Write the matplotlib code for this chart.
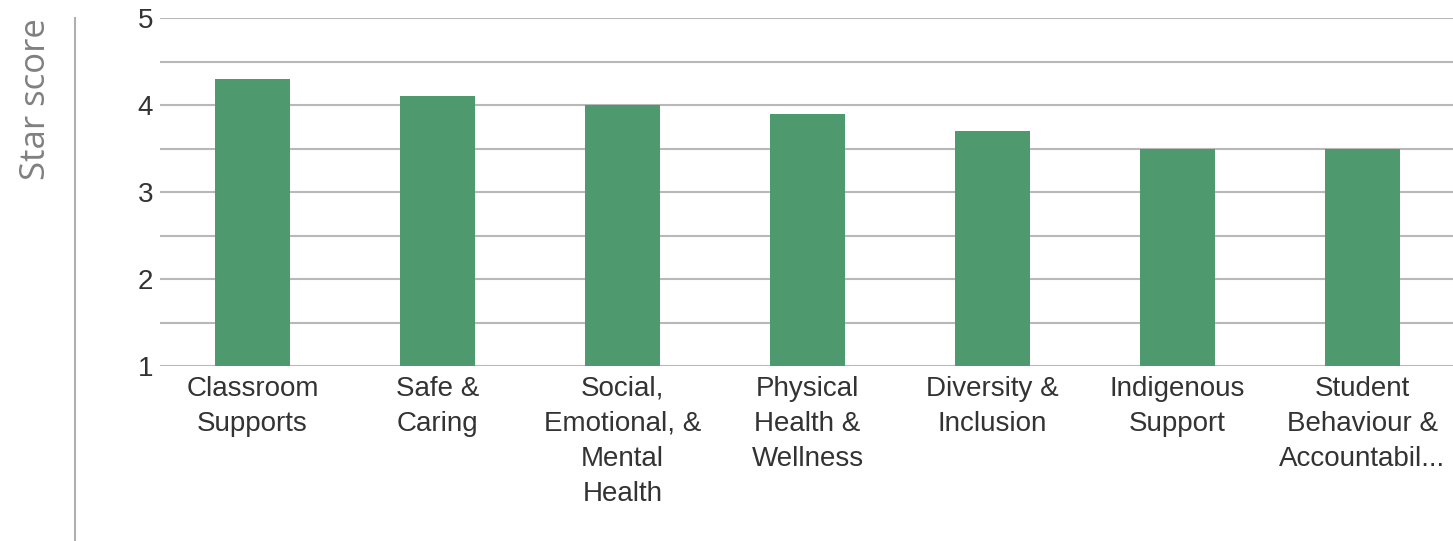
import numpy as np
import matplotlib.pyplot as plt
from matplotlib.lines import Line2D

# Data
categories = ["Classroom\nSupports", "Safe &\nCaring", "Social,\nEmotional, &\nMental\nHealth",
              "Physical\nHealth &\nWellness", "Diversity &\nInclusion", "Indigenous\nSupport",
              "Student\nBehaviour &\nAccountabil..."]
scores = [4.3, 4.1, 4.0, 3.9, 3.7, 3.5, 3.5]
yticks = [1, 2, 3, 4, 5]

W, H = 1453, 541
fig = plt.figure(figsize=(W / 100, H / 100), dpi=100)
ax = fig.add_axes([160 / W, 1 - 366 / H, (1455 - 160) / W, (366 - 18) / H])

x = np.arange(len(categories))
ax.bar(x, np.array(scores) - 1, bottom=1, width=0.405, color="#4e9a6e", zorder=3)

ax.set_xlim(-0.5, len(categories) - 0.5)
ax.set_ylim(1, 5)
ax.set_yticks(yticks)
ax.set_yticks([1.5, 2.5, 3.5, 4.5], minor=True)
ax.grid(axis="y", which="both", color="#b8b8b8", linewidth=1.5, zorder=0)
for s in ax.spines.values():
    s.set_visible(False)
ax.tick_params(axis="y", which="both", length=0, pad=5, labelsize=20, labelcolor="#333333")
ax.tick_params(axis="x", length=0, pad=7)
ax.set_yticklabels([str(t) for t in yticks], family="Liberation Sans")
ax.set_xticks(x)
ax.set_xticklabels(categories, family="Liberation Sans", fontsize=20, color="#333333",
                   linespacing=1.45, va="top")

fig.text(36 / W, 1 - 99 / H, "Star score", rotation=90, ha="center", va="center",
         fontsize=25, color="#808080", family="Open Sans")
fig.add_artist(Line2D([75 / W, 75 / W], [0, 1 - 18 / H], color="#b0b0b0", linewidth=1.5))

fig.savefig("out.png", dpi=100)
